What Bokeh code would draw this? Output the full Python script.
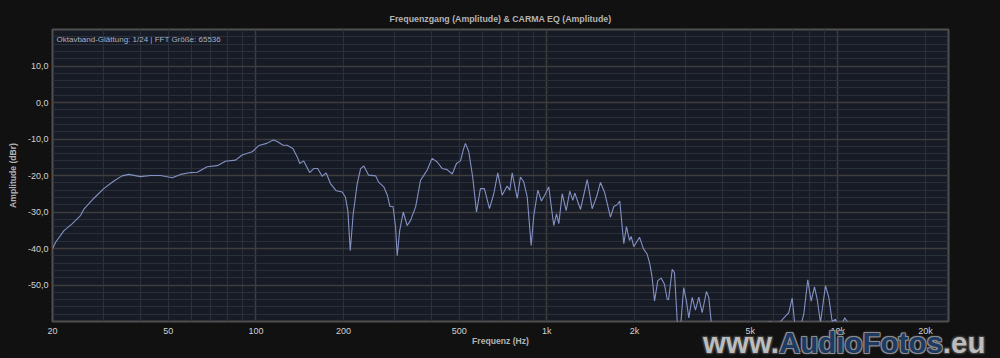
from bokeh.plotting import figure
from bokeh.models import FixedTicker, Label, Range1d, Div
from bokeh.layouts import column
from bokeh.embed import file_html
from bokeh.resources import INLINE

# ---- data ----
freq_hz = [20, 20.5, 21.9, 23.4, 25.0, 25.6, 27.7, 30.0, 32.5, 34.7, 36.6, 40.1, 43.4, 47.0,
           51.6, 55.1, 59.6, 62.9, 68.0, 73.6, 78.6, 85.1, 89.7, 97.1, 102.3, 109, 114.7,
           118.4, 124, 128, 134, 138.7, 141.5, 146, 153, 158, 163, 169, 174.4, 180.4, 189,
           198, 203, 207, 211, 216, 223, 229, 235, 244, 258, 264, 275, 283, 289, 296, 302,
           306, 312, 321, 331, 340, 354, 368, 378, 388, 403, 420, 437, 454, 473, 489, 505,
           516, 525, 539, 556, 573, 591, 610, 635, 657, 678, 702, 730, 746, 760, 791, 811,
           833, 856, 883, 902, 931, 958, 989, 1015, 1056, 1079, 1099, 1129, 1165, 1199,
           1228, 1247, 1305, 1376, 1431, 1481, 1528, 1577, 1654, 1698, 1744, 1780, 1838,
           1877, 1922, 1949, 1989, 2081, 2148, 2210, 2258, 2300, 2344, 2405, 2470, 2536,
           2591, 2620, 2696, 2745, 2805, 2870, 2953, 3018, 3074, 3158, 3241, 3327, 3417,
           3535, 3600, 3669, 3750, 4300, 5000, 5834, 6200, 6604, 6780, 6966, 7094, 7350,
           7637, 7880, 8096, 8311, 8490, 8714, 9066, 9307, 9560, 9813, 10150, 10560, 10762,
           11500, 15000, 24000]
amp_db = [-40.1, -38.3, -35.1, -33.2, -30.9, -29.3, -26.3, -23.6, -21.5, -20.1, -19.7, -20.3,
          -20.0, -20.0, -20.6, -19.7, -19.2, -19.1, -17.6, -17.3, -16.1, -15.8, -14.4, -13.5,
          -11.8, -11.2, -10.3, -10.7, -11.7, -11.7, -12.6, -14.9, -16.7, -16.0, -19.2, -18.1,
          -18.1, -20.2, -19.3, -22.2, -24.2, -24.5, -25.9, -29.6, -40.6, -30.5, -22.2, -18.1,
          -17.4, -19.9, -20.1, -21.8, -23.1, -25.4, -28.5, -28.5, -34.1, -42.0, -35.1, -30.0,
          -33.7, -32.3, -28.6, -21.3, -19.9, -18.5, -15.3, -16.3, -18.1, -18.4, -19.6, -16.7,
          -16.0, -13.0, -11.2, -13.5, -20.4, -30.0, -23.6, -23.6, -29.1, -25.0, -19.3, -25.4,
          -22.9, -24.0, -19.3, -26.3, -20.4, -21.8, -25.9, -39.2, -30.9, -24.0, -27.0, -25.0,
          -23.1, -33.7, -30.5, -33.2, -25.0, -29.6, -24.3, -26.8, -24.8, -29.3, -21.1, -29.1,
          -25.9, -21.9, -24.5, -31.4, -28.5, -28.0, -27.0, -38.7, -34.0, -37.8, -36.7, -39.5,
          -36.9, -40.1, -41.5, -44.2, -47.9, -54.4, -48.8, -48.1, -49.8, -53.9, -54.0, -45.7,
          -46.6, -59.9, -63.0, -50.7, -54.4, -59.0, -53.4, -56.9, -53.3, -57.6, -51.8, -53.4,
          -59.9, -64.0, -67.0, -65.0, -60.0, -61.0, -58.5, -57.6, -53.6, -59.9, -63.0, -58.0,
          -48.6, -54.4, -50.5, -53.9, -60.3, -50.2, -53.4, -60.0, -59.4, -62.0, -59.0, -60.0,
          -66.0, -70.0, -72.0]

x_tick_values = [20, 50, 100, 200, 500, 1000, 2000, 5000, 10000, 20000]
x_tick_labels = ["20", "50", "100", "200", "500", "1k", "2k", "5k", "10k", "20k"]
x_major_grid = [100, 1000, 10000]
x_minor_grid = [30, 40, 50, 60, 70, 80, 90, 200, 300, 400, 500, 600, 700, 800, 900,
                2000, 3000, 4000, 5000, 6000, 7000, 8000, 9000, 20000]
y_tick_values = [-50, -40, -30, -20, -10, 0, 10]
y_tick_labels = ["-50,0", "-40,0", "-30,0", "-20,0", "-10,0", "0,0", "10,0"]
y_minor_grid = [-58, -56, -54, -52, -48, -46, -44, -42, -38, -36, -34, -32, -28, -26, -24,
                -22, -18, -16, -14, -12, -8, -6, -4, -2, 2, 4, 6, 8, 12, 14, 16, 18]

title_text = "Frequenzgang (Amplitude) & CARMA EQ (Amplitude)"
info_text = "Oktavband-Glättung: 1/24 | FFT Größe: 65536"
watermark_parts = ["www.", "Audio", "Fotos", ".eu"]

FONT = "Liberation Sans"

p = figure(width=1000, height=358, x_axis_type="log",
           x_range=Range1d(20, 24000), y_range=Range1d(-60, 20),
           output_backend="svg", toolbar_location=None, title=title_text,
           min_border_left=52, min_border_right=52, min_border_top=29, min_border_bottom=37)

p.border_fill_color = "#111111"
p.background_fill_color = "#171b26"
p.outline_line_color = "#505050"
p.outline_line_width = 2

p.title.align = "center"
p.title.text_font = FONT
p.title.text_font_size = "8.8px"
p.title.text_font_style = "bold"
p.title.text_color = "#b4b4b4"
p.title.standoff = 11

# axes
for ax in (p.xaxis, p.yaxis):
    ax.axis_line_color = None
    ax.major_tick_line_color = None
    ax.minor_tick_line_color = None
    ax.major_tick_out = 0
    ax.major_tick_in = 0
    ax.minor_tick_out = 0
    ax.minor_tick_in = 0
    ax.major_label_text_font = FONT
    ax.major_label_text_font_size = "9px"
    ax.major_label_text_color = "#d2d2d2"
    ax.axis_label_text_font = FONT
    ax.axis_label_text_font_size = "8.6px"
    ax.axis_label_text_font_style = "bold"
    ax.axis_label_text_color = "#b4b4b4"
    ax.major_label_standoff = 4

p.xaxis.ticker = FixedTicker(ticks=x_tick_values)
p.xaxis.major_label_overrides = {v: l for v, l in zip(x_tick_values, x_tick_labels)}
p.xaxis.axis_label = "Frequenz (Hz)"
p.xaxis.axis_label_standoff = -3

p.yaxis.ticker = FixedTicker(ticks=y_tick_values)
p.yaxis.major_label_overrides = {v: l for v, l in zip(y_tick_values, y_tick_labels)}
p.yaxis.axis_label = "Amplitude (dBr)"
p.yaxis.axis_label_standoff = 7

# grids
p.xgrid.ticker = FixedTicker(ticks=x_major_grid, minor_ticks=x_minor_grid)
p.ygrid.ticker = FixedTicker(ticks=y_tick_values, minor_ticks=y_minor_grid)
for g in (p.xgrid, p.ygrid):
    g.grid_line_color = "#3d3d3c"
    g.grid_line_width = 1.5
    g.minor_grid_line_color = "#2b2f39"
    g.minor_grid_line_width = 1

p.line(freq_hz, amp_db, line_color="#8391c4", line_width=1.1)

p.add_layout(Label(x=4, y=287, x_units="screen", y_units="screen", text=info_text,
                   text_font=FONT, text_font_size="8px", text_color="#a9b1c2",
                   text_baseline="top"))

# watermark (HTML text laid over the bottom-right corner)
grey_css = ("color:#bdbdbd;text-shadow:-1px -1px 0 #3a3a3a,1px -1px 0 #3a3a3a,"
            "-1px 1px 0 #3a3a3a,1px 1px 0 #3a3a3a,0 0 3px #777;")
blue_css = ("color:#1d3a62;text-shadow:-1px -1px 0 #8c8c8c,1px -1px 0 #8c8c8c,"
            "-1px 1px 0 #8c8c8c,1px 1px 0 #8c8c8c,0 0 3px #999;")
wm_html = ('<div style="font-family:\'Liberation Sans\',Arial,sans-serif;font-weight:bold;'
           'font-size:29.5px;line-height:29px;white-space:nowrap;">'
           f'<span style="{grey_css}">{watermark_parts[0]}</span>'
           f'<span style="{blue_css}">{watermark_parts[1]}{watermark_parts[2]}</span>'
           f'<span style="{grey_css}">{watermark_parts[3]}</span></div>')
wm = Div(text=wm_html, width=296, height=31,
         styles={"position": "absolute", "left": "698px", "top": "323px", "z-index": "10",
                 "pointer-events": "none"})

page = column(p, wm)

html = None
try:
    from jinja2 import Template
    from bokeh.core.templates import FILE
    tmpl = Template('{% extends base %}{% block preamble %}<style>html,body{background:#111111;overflow:hidden;}</style>{% endblock %}')
    html = file_html(page, INLINE, template=tmpl, template_variables={"base": FILE})
except Exception:
    html = None
if html is None:
    html = file_html(page, INLINE)
open("out.html", "w").write(html)
